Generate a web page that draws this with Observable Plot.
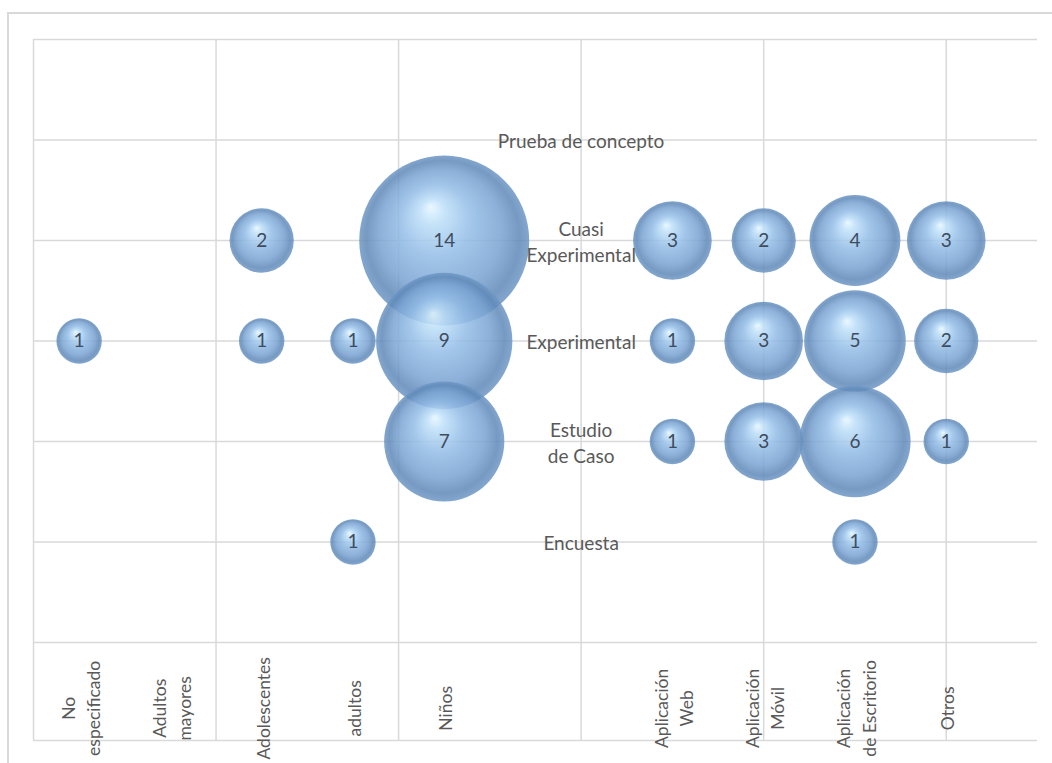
<!DOCTYPE html>
<html>
<head>
<meta charset="utf-8">
<script src="https://cdn.jsdelivr.net/npm/d3@7"></script>
<script src="https://cdn.jsdelivr.net/npm/@observablehq/plot@0.6"></script>
<style>
  html, body { margin: 0; padding: 0; background: #ffffff; }
  #wrap { position: relative; width: 1052px; height: 763px; overflow: hidden; }
  #border { position: absolute; left: 7px; top: 12px; width: 1060px; height: 800px;
            border-left: 2px solid #d9d9d9; border-top: 2px solid #d9d9d9; pointer-events: none; }
</style>
</head>
<body>
<div id="wrap"><div id="border"></div></div>
<script>
// Categories along the x axis (population / platform)
const categories = ["No especificado", "Adultos mayores", "Adolescentes", "adultos", "Niños",
                    "Aplicación Web", "Aplicación Móvil", "Aplicación de Escritorio", "Otros"];
const categoryLabels = ["No\nespecificado", "Adultos\nmayores", "Adolescentes", "adultos", "Niños",
                        "Aplicación\nWeb", "Aplicación\nMóvil", "Aplicación\nde Escritorio", "Otros"];
const categoryX = [1, 2, 3, 4, 5, 7.5, 8.5, 9.5, 10.5];

// Study types (y levels)
const methods = ["Encuesta", "Estudio de Caso", "Experimental", "Cuasi Experimental", "Prueba de concepto"];
const methodLabels = ["Encuesta", "Estudio\nde Caso", "Experimental", "Cuasi\nExperimental", "Prueba de concepto"];
const methodY = [1, 2, 3, 4, 5];
const methodLabelX = 6.5;

// Counts per category for each study type (null = no bubble)
const cuasiExperimental = [null, null, 2, null, 14, 3, 2, 4, 3];
const experimental      = [1, null, 1, 1, 9, 1, 3, 5, 2];
const estudioDeCaso     = [null, null, null, null, 7, 1, 3, 6, 1];
const encuesta          = [null, null, null, 1, null, null, null, 1, null];
const pruebaDeConcepto  = [null, null, null, null, null, null, null, null, null];

// Grid / axis ticks
const xGrid = [0.5, 2.5, 4.5, 6.5, 8.5, 10.5];
const yGrid = [0, 1, 2, 3, 4, 5, 6];
const tableBottom = -0.975;
const labelRowY = -0.655;

// Drawing order: upper rows first so lower bubbles overlap them
const series = [
  {y: 4, values: cuasiExperimental},
  {y: 5, values: pruebaDeConcepto},
  {y: 3, values: experimental},
  {y: 2, values: estudioDeCaso},
  {y: 1, values: encuesta}
];
const points = [];
for (const s of series) {
  s.values.forEach((v, j) => { if (v != null) points.push({x: categoryX[j], y: s.y, v, cat: categories[j]}); });
}
const methodRows = methods.map((m, i) => ({name: m, label: methodLabels[i], y: methodY[i]}));
const catRows = categories.map((c, i) => ({name: c, label: categoryLabels[i], x: categoryX[i]}));

const grid = {stroke: "#d9d9d9", strokeWidth: 1.5};

const chart = Plot.plot({
  width: 1052,
  height: 763,
  marginLeft: 33,
  marginRight: 15,
  marginTop: 39,
  marginBottom: 121,
  x: {domain: [0.5, 11.5], axis: null},
  y: {domain: [0, 6], axis: null},
  r: {type: "sqrt", domain: [0, 14], range: [0, 85]},
  style: {fontFamily: "Lato, 'Open Sans', sans-serif", background: "transparent", overflow: "visible"},
  marks: [
    Plot.ruleY(yGrid, {y: d => d, x1: 0.5, x2: 11.5, ...grid}),
    Plot.ruleY([tableBottom], {y: d => d, x1: 0.5, x2: 11.5, ...grid}),
    Plot.ruleX(xGrid, {x: d => d, y1: tableBottom, y2: 6, ...grid}),
    Plot.dot(points, {x: "x", y: "y", r: "v", fill: "url(#sphere)", fillOpacity: 0.86, stroke: "none", sort: null}),
    Plot.text(points, {x: "x", y: "y", text: d => String(d.v), fontSize: 19, fill: "#3e4c5e"}),
    Plot.text(methodRows, {x: () => methodLabelX, y: "y", text: "label", fontSize: 19, fill: "#595959", lineHeight: 1.35}),
    Plot.text(catRows, {x: "x", y: () => labelRowY, text: "label", rotate: -90, fontSize: 17.5, fill: "#595959",
                        lineHeight: 1.45, textAnchor: "middle", lineAnchor: "middle"})
  ]
});

// Sphere-like radial gradient for the bubbles
const defs = d3.create("svg:defs");
const g = defs.append("radialGradient").attr("id", "sphere")
  .attr("cx", "0.5").attr("cy", "0.5").attr("r", "0.5")
  .attr("fx", "0.42").attr("fy", "0.3");
[["0%", "#e6f7ff"], ["15%", "#bcdef8"], ["42%", "#93bce6"], ["72%", "#7aa3d2"],
 ["90%", "#6089b8"], ["100%", "#6f98c6"]].forEach(([o, c]) => g.append("stop").attr("offset", o).attr("stop-color", c));
chart.insertBefore(defs.node(), chart.firstChild);

document.getElementById("wrap").insertBefore(chart, document.getElementById("border"));
</script>
</body>
</html>
